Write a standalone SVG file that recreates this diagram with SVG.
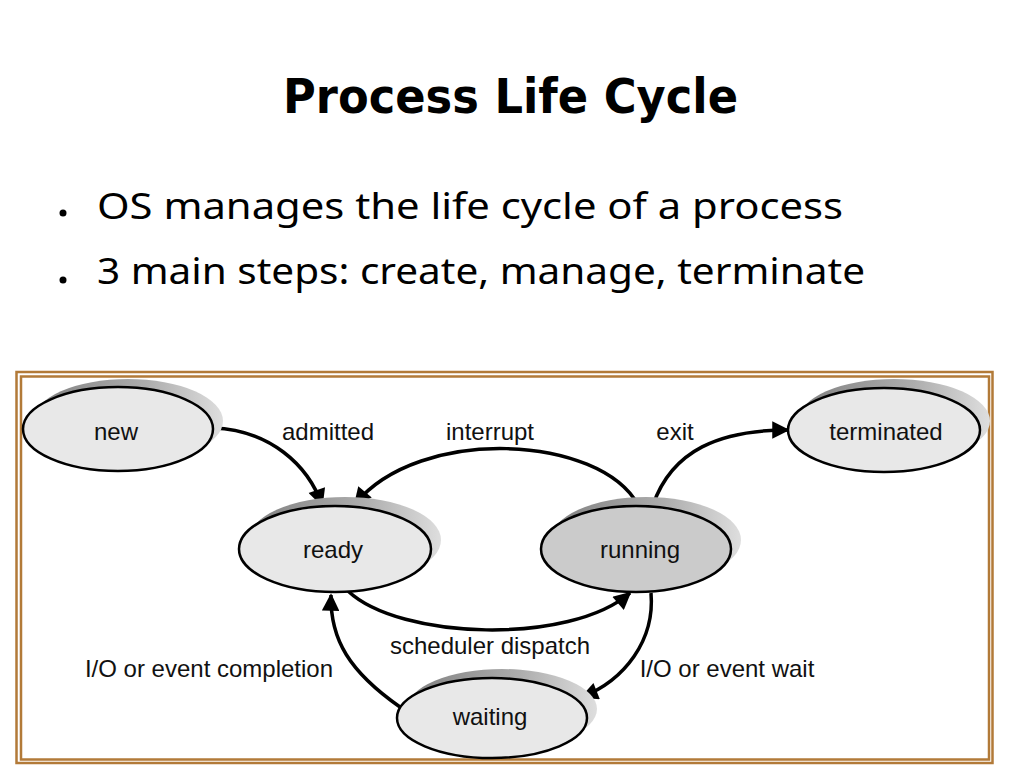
<svg xmlns="http://www.w3.org/2000/svg" width="1023" height="767" viewBox="0 0 1023 767">
<defs>
<linearGradient id="sh" x1="0" y1="0" x2="1" y2="0">
<stop offset="0" stop-color="#808080"/>
<stop offset="0.6" stop-color="#adadad"/>
<stop offset="1" stop-color="#dedede"/>
</linearGradient>
<marker id="ah" viewBox="0 0 10 10" refX="9" refY="5" markerWidth="6.5" markerHeight="5" markerUnits="strokeWidth" orient="auto">
<path d="M0,0 L10,5 L0,10 z" fill="#000"/>
</marker>
</defs>
<style>
.title{font-family:"DejaVu Sans","Noto Sans",sans-serif;font-weight:bold;font-size:48px;fill:#000}
.bul{font-family:"Noto Sans","DejaVu Sans",sans-serif;font-size:36px;fill:#000}
.lbl{font-family:"Liberation Sans",Arial,sans-serif;font-size:24px;fill:#111}
.node{stroke:#000;stroke-width:2.5}
.shadow{fill:url(#sh);stroke:none}
.edge{fill:none;stroke:#000;stroke-width:3.5;marker-end:url(#ah)}
.frame{fill:none;stroke:#b27a38;stroke-width:2.5}
</style>
<rect width="1023" height="767" fill="#fff"/>
<text class="title" x="283" y="113" textLength="455" lengthAdjust="spacingAndGlyphs">Process Life Cycle</text>
<circle cx="63" cy="213" r="3.5" fill="#000"/>
<text class="bul" x="97" y="219" textLength="746" lengthAdjust="spacingAndGlyphs">OS manages the life cycle of a process</text>
<circle cx="63" cy="280" r="3.5" fill="#000"/>
<text class="bul" x="97" y="284" textLength="768" lengthAdjust="spacingAndGlyphs">3 main steps: create, manage, terminate</text>
<rect class="frame" x="16.5" y="372" width="976" height="391"/>
<rect class="frame" x="21" y="376.5" width="968" height="383"/>
<g id="connectors">
<path class="edge" d="M213,428 C270,430 308,465 322,505"/>
<path class="edge" d="M638,505 C600,435 420,425 355,504"/>
<path class="edge" d="M653,505 C672,450 720,430 788,430"/>
<path class="edge" d="M348,591 C400,640 570,645 630,593"/>
<path class="edge" d="M651,593 C655,640 625,680 582,697"/>
<path class="edge" d="M400,707 C350,672 330,640 331,595"/>
</g>
<g id="node-new">
<ellipse class="shadow" cx="128" cy="421" rx="95" ry="42"/>
<ellipse class="node" cx="118" cy="429" rx="95" ry="42" fill="#e8e8e8"/>
<text class="lbl" x="116" y="440" text-anchor="middle">new</text>
</g>
<g id="node-ready">
<ellipse class="shadow" cx="345" cy="540" rx="96" ry="43"/>
<ellipse class="node" cx="335" cy="549" rx="96" ry="43" fill="#e8e8e8"/>
<text class="lbl" x="333" y="558" text-anchor="middle">ready</text>
</g>
<g id="node-running">
<ellipse class="shadow" cx="646" cy="540" rx="95" ry="43"/>
<ellipse class="node" cx="636" cy="549" rx="95" ry="43" fill="#cbcbcb"/>
<text class="lbl" x="640" y="558" text-anchor="middle">running</text>
</g>
<g id="node-terminated">
<ellipse class="shadow" cx="894" cy="421" rx="96" ry="42"/>
<ellipse class="node" cx="884" cy="430" rx="96" ry="42" fill="#e8e8e8"/>
<text class="lbl" x="886" y="440" text-anchor="middle">terminated</text>
</g>
<g id="node-waiting">
<ellipse class="shadow" cx="502" cy="709" rx="95" ry="40"/>
<ellipse class="node" cx="492" cy="718" rx="95" ry="40" fill="#e8e8e8"/>
<text class="lbl" x="490" y="725" text-anchor="middle">waiting</text>
</g>
<g id="labels">
<text class="lbl" x="328" y="440" text-anchor="middle">admitted</text>
<text class="lbl" x="490" y="440" text-anchor="middle">interrupt</text>
<text class="lbl" x="675" y="440" text-anchor="middle">exit</text>
<text class="lbl" x="490" y="654" text-anchor="middle">scheduler dispatch</text>
<text class="lbl" x="209" y="677" text-anchor="middle">I/O or event completion</text>
<text class="lbl" x="727" y="677" text-anchor="middle">I/O or event wait</text>
</g>
</svg>
